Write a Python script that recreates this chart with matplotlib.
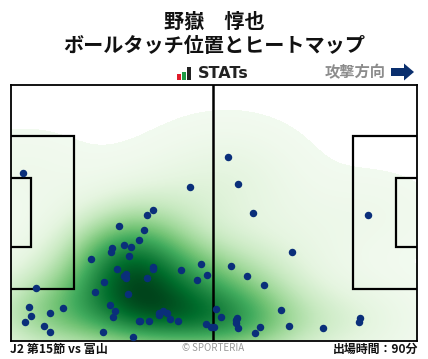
import numpy as np
import matplotlib
matplotlib.use("Agg")
import matplotlib.pyplot as plt
from matplotlib.patches import Rectangle, FancyArrow

plt.rcParams['font.family'] = ['Noto Sans CJK JP', 'DejaVu Sans']

title_lines = ["野嶽　惇也", "ボールタッチ位置とヒートマップ"]
match_label = "J2 第15節 vs 富山"
time_label = "出場時間：90分"
credit = "© SPORTERIA"
direction_label = "攻撃方向"
logo_label = "STATs"

touch_x = [23,190,153,147,119,144,139,112,111,124,131,129,91,117,126,124,126,153,153,147,104,95,128,36,
           181,201,207,197,110,115,113,29,31,25,50,63,44,50,103,133,139,140,149,159,159,163,167,170,178,
           206,211,292,231,247,264,216,221,237,236,236,238,260,255,214,281,289,323,360,359,228,238,253,368]
touch_y = [173,187,210,215,226,230,240,248,252,245,247,256,259,269,274,276,278,267,269,278,282,292,294,288,
           270,264,275,280,305,311,317,307,316,322,313,308,326,332,332,337,321,321,321,313,315,311,313,319,321,
           324,327,252,266,276,285,309,317,318,320,323,328,327,333,327,310,326,328,318,322,157,184,213,215]

W, H = 428, 359
fig = plt.figure(figsize=(W/100, H/100), dpi=100)
L, R, T, B = 10.5, 416.5, 84.5, 340.5
ax = fig.add_axes([L/W, 1-B/H, (R-L)/W, (B-T)/H])
ax.set_xlim(L, R)
ax.set_ylim(B, T)
ax.set_xticks([]); ax.set_yticks([])
for s in ax.spines.values():
    s.set_linewidth(1.3); s.set_color('black'); s.set_zorder(6)

# density map built from the touches
gx, gy = np.meshgrid(np.linspace(L, R, 406), np.linspace(T, B, 256))
px, py = np.array(touch_x, float), np.array(touch_y, float)
bw_x, bw_y = 45.0, 28.0
dens = np.zeros_like(gx)
for a, b in zip(px, py):
    dens += np.exp(-((gx-a)/bw_x)**2/2 - ((gy-b)/bw_y)**2/2)
dens /= dens.max()
dens_plot = np.ma.masked_less(dens, 0.014)
ax.imshow(dens_plot**1.2, extent=(L, R, B, T), cmap='Greens', vmin=-0.03, vmax=1,
          aspect='auto', interpolation='bilinear', zorder=1)

# pitch lines
lw = 1.6
ax.plot([213, 213], [T, B], color='black', lw=1.8, zorder=5)
for xs, ys in [([L, 73.5, 73.5, L], [136, 136, 289, 289]),
               ([L, 31, 31, L], [178, 178, 247, 247]),
               ([R, 353, 353, R], [136, 136, 289, 289]),
               ([R, 396, 396, R], [178, 178, 247, 247])]:
    ax.plot(xs, ys, color='black', lw=lw, zorder=5, solid_joinstyle='miter')

ax.scatter(px, py, s=29, color='#0a2f7a', linewidths=0, zorder=7, clip_on=True)

def T_(x, y):
    return x/W, 1-y/H

fig.text(*T_(214, 21.5), title_lines[0], ha='center', va='center', fontsize=14.5, fontweight='bold', color='#111111')
fig.text(*T_(214, 46), title_lines[1], ha='center', va='center', fontsize=14.5, fontweight='bold', color='#111111')
fig.text(*T_(355, 72), direction_label, ha='center', va='center', fontsize=11, fontweight='bold', color='#8c8c8c')
fig.text(*T_(223, 73.5), logo_label, ha='center', va='center', fontsize=11.5, fontweight='bold', color='#222222',
         family=['DejaVu Sans'])
fig.text(*T_(10, 349), match_label, ha='left', va='center', fontsize=8.7, fontweight='bold', color='#111111')
fig.text(*T_(213, 348), credit, ha='center', va='center', fontsize=7, color='#999999')
fig.text(*T_(418, 349), time_label, ha='right', va='center', fontsize=8.6, fontweight='bold', color='#111111')

# decoration: logo bars and direction arrow on an overlay in pixel coordinates
ov = fig.add_axes([0, 0, 1, 1], facecolor='none')
ov.set_xlim(0, W); ov.set_ylim(H, 0); ov.axis('off')
ov.add_patch(Rectangle((177, 74), 4.5, 6, color='#e01b2a', lw=0))
ov.add_patch(Rectangle((182, 72), 4.5, 8, color='#1f9a45', lw=0))
ov.add_patch(Rectangle((187, 67), 4, 13, color='#222222', lw=0))
ov.add_patch(FancyArrow(391, 72, 23, 0, width=8, head_width=17, head_length=10,
                        length_includes_head=True, color='#0a2f6e', lw=0))

fig.savefig('out.png', dpi=100)
